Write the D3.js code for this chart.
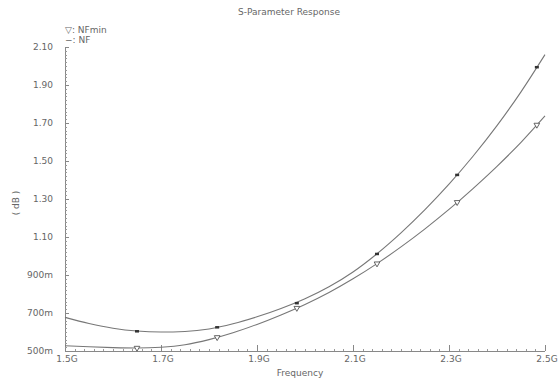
<!DOCTYPE html>
<meta charset="utf-8">
<style>
	body {
		margin: 0;
		background: #fff;
		font-family: "DejaVu Sans", Arial, sans-serif;
	}

	.lbl {
		fill: #666;
		font-size: 9px;
	}

	.curve {
		fill: none;
		stroke: #777;
		stroke-width: 1.1px;
	}
</style>
<body>
	<svg id="chart" width="560" height="381"></svg>
</body>
<script src="https://cdn.jsdelivr.net/npm/d3@7"></script>
<script>
	// frequency samples (GHz) and the two curves (dB)
	var freqs = [1.50, 1.55, 1.60, 1.65, 1.70, 1.75, 1.80, 1.85, 1.90, 1.95, 2.00,
		2.05, 2.10, 2.15, 2.20, 2.25, 2.30, 2.35, 2.40, 2.45, 2.50];
	var nf = [0.677, 0.645, 0.620, 0.605, 0.600, 0.603, 0.616, 0.643, 0.680, 0.724, 0.775,
		0.838, 0.916, 1.012, 1.122, 1.244, 1.378, 1.525, 1.686, 1.864, 2.060];
	var nfmin = [0.528, 0.522, 0.518, 0.516, 0.520, 0.533, 0.560, 0.596, 0.640, 0.690, 0.745,
		0.808, 0.880, 0.960, 1.048, 1.143, 1.245, 1.355, 1.472, 1.598, 1.737];

	// marker points
	var markFreqs = [1.65, 1.817, 1.983, 2.15, 2.317, 2.483];
	var nfMarks = [0.605, 0.626, 0.753, 1.012, 1.428, 1.995];
	var nfminMarks = [0.516, 0.572, 0.726, 0.960, 1.283, 1.690];

	var xTicks = [1.5, 1.7, 1.9, 2.1, 2.3, 2.5];
	var xTickLabels = ["1.5G", "1.7G", "1.9G", "2.1G", "2.3G", "2.5G"];
	var yTicks = [0.5, 0.7, 0.9, 1.1, 1.3, 1.5, 1.7, 1.9, 2.1];
	var yTickLabels = ["500m", "700m", "900m", "1.10", "1.30", "1.50", "1.70", "1.90", "2.10"];

	var plotL = 65, plotR = 545, plotT = 47, plotB = 351;

	var svg = d3.select("#chart");

	var x = d3.scaleLinear().domain([1.5, 2.5]).range([plotL, plotR]);
	var y = d3.scaleLinear().domain([0.5, 2.1]).range([plotB, plotT]);

	// minor ticks
	var xMinor = d3.range(0, 51).map(function(i) { return 1.5 + i * 0.02; });
	var yMinor = d3.range(0, 81).map(function(i) { return 0.5 + i * 0.02; });

	var gx = svg.append("g");
	gx.append("line")
		.attr("x1", plotL).attr("x2", plotR)
		.attr("y1", plotB + 0.5).attr("y2", plotB + 0.5)
		.attr("stroke", "#888");
	gx.selectAll(".mn").data(xMinor).enter().append("line")
		.attr("x1", function(d) { return Math.round(x(d)) + 0.5; })
		.attr("x2", function(d) { return Math.round(x(d)) + 0.5; })
		.attr("y1", plotB).attr("y2", plotB - 2)
		.attr("stroke", "#999");
	gx.selectAll(".mj").data(xTicks).enter().append("line")
		.attr("x1", function(d) { return Math.round(x(d)) + 0.5; })
		.attr("x2", function(d) { return Math.round(x(d)) + 0.5; })
		.attr("y1", plotB).attr("y2", plotB - 6)
		.attr("stroke", "#888");
	gx.selectAll("text").data(xTicks).enter().append("text")
		.attr("class", "lbl")
		.attr("x", function(d) { return x(d) + 2; })
		.attr("y", plotB + 11)
		.attr("text-anchor", "middle")
		.text(function(d, i) { return xTickLabels[i]; });

	var gy = svg.append("g");
	gy.append("line")
		.attr("x1", plotL + 0.5).attr("x2", plotL + 0.5)
		.attr("y1", plotT).attr("y2", plotB)
		.attr("stroke", "#888");
	gy.selectAll(".mn").data(yMinor).enter().append("line")
		.attr("x1", plotL).attr("x2", plotL + 2)
		.attr("y1", function(d) { return Math.round(y(d)) + 0.5; })
		.attr("y2", function(d) { return Math.round(y(d)) + 0.5; })
		.attr("stroke", "#999");
	gy.selectAll(".mj").data(yTicks).enter().append("line")
		.attr("x1", plotL).attr("x2", plotL + 4)
		.attr("y1", function(d) { return Math.round(y(d)) + 0.5; })
		.attr("y2", function(d) { return Math.round(y(d)) + 0.5; })
		.attr("stroke", "#888");
	gy.selectAll("text").data(yTicks).enter().append("text")
		.attr("class", "lbl")
		.attr("x", 53)
		.attr("y", function(d) { return y(d) + 3; })
		.attr("text-anchor", "end")
		.text(function(d, i) { return yTickLabels[i]; });

	// curves
	var line = d3.line()
		.x(function(d) { return x(d[0]); })
		.y(function(d) { return y(d[1]); })
		.curve(d3.curveMonotoneX);

	svg.append("path").attr("class", "curve")
		.attr("d", line(freqs.map(function(f, i) { return [f, nf[i]]; })));
	svg.append("path").attr("class", "curve")
		.attr("d", line(freqs.map(function(f, i) { return [f, nfmin[i]]; })));

	// NF markers: small dash
	svg.selectAll(".nfm").data(markFreqs).enter().append("rect")
		.attr("x", function(d) { return x(d) - 2; })
		.attr("y", function(d, i) { return y(nfMarks[i]) - 1; })
		.attr("width", 4).attr("height", 2.5)
		.attr("fill", "#333");

	// NFmin markers: open down triangle
	var tri = d3.symbol().type(d3.symbolTriangle).size(14);
	svg.selectAll(".nfminm").data(markFreqs).enter().append("path")
		.attr("d", tri)
		.attr("transform", function(d, i) {
			return "translate(" + x(d) + "," + y(nfminMarks[i]) + ") rotate(180)";
		})
		.attr("fill", "#fff")
		.attr("stroke", "#555")
		.attr("stroke-width", 0.9);

	// titles
	svg.append("text").attr("class", "lbl")
		.attr("x", 289).attr("y", 15)
		.attr("text-anchor", "middle")
		.text("S-Parameter Response");
	svg.append("text").attr("class", "lbl")
		.attr("x", 300).attr("y", 376)
		.attr("text-anchor", "middle")
		.text("Frequency");
	svg.append("text").attr("class", "lbl")
		.attr("transform", "translate(19,203) rotate(-90)")
		.attr("text-anchor", "middle")
		.text("( dB )");

	// legend
	svg.append("text").attr("class", "lbl")
		.attr("x", 65).attr("y", 33)
		.text("\u25BD: NFmin");
	svg.append("text").attr("class", "lbl")
		.attr("x", 65).attr("y", 43)
		.text("\u2212: NF");
</script>
